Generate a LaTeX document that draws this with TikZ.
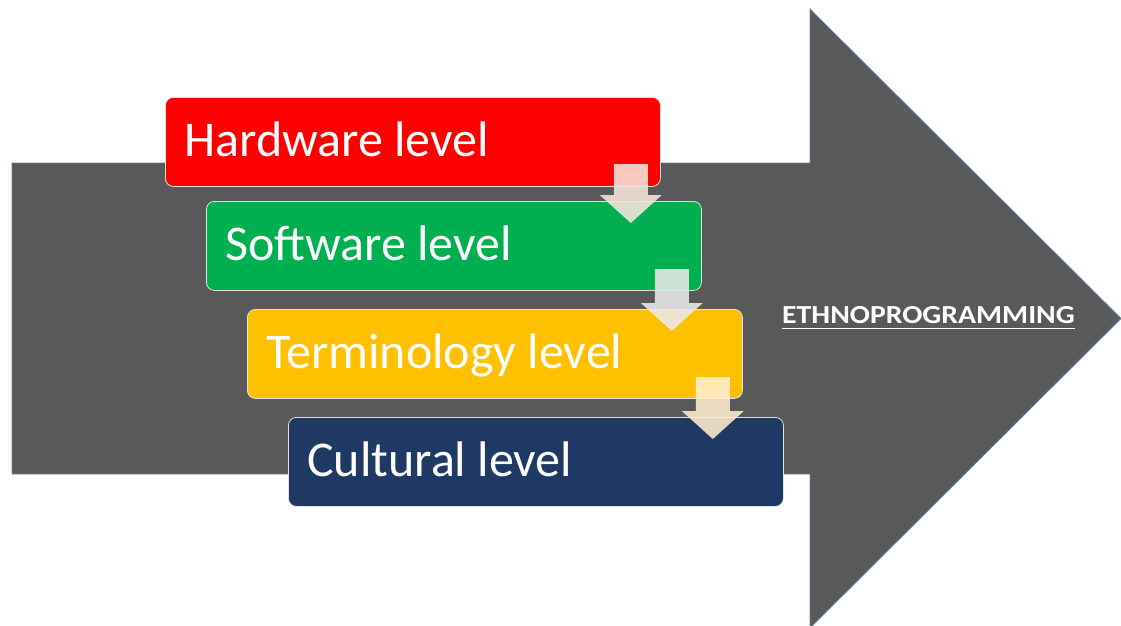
\documentclass[tikz,border=0pt]{standalone}
\usepackage{fontspec}
\setmainfont{Carlito}
\usetikzlibrary{calc}
\definecolor{arrgray}{RGB}{89,89,89}
\definecolor{arredge}{RGB}{96,130,170}
\definecolor{lvred}{RGB}{255,0,0}
\definecolor{lvgreen}{RGB}{0,176,80}
\definecolor{lvyellow}{RGB}{255,192,0}
\definecolor{lvnavy}{RGB}{32,56,100}
\definecolor{boxedge}{RGB}{225,225,225}
\definecolor{dnA}{RGB}{246,230,220}
\definecolor{dnB}{RGB}{234,234,234}
\definecolor{dnC}{RGB}{255,238,207}
\tikzset{
  levelbox/.style={draw=boxedge, line width=0.8pt, rounded corners=8pt,
    minimum width=495pt, minimum height=89pt, anchor=north west, inner sep=0pt},
  leveltext/.style={text=white, anchor=base west, inner sep=0pt,
    font=\fontsize{50}{60}\selectfont},
  bigarrow/.style={fill=arrgray, draw=arredge, line width=0.8pt},
  downarrow/.style={opacity=0.88}
}
\begin{document}
\begin{tikzpicture}[x=1pt,y=-1pt]
\useasboundingbox (0,0) rectangle (1121,626);
\clip (0,0) rectangle (1121,626);
% big arrow
\filldraw[bigarrow] (12,163) -- (810,163) -- (810,9) -- (1121,318.5) -- (810,628) -- (810,474) -- (12,474) -- cycle;
% label
\node[text=white, anchor=base west, inner sep=0pt, font=\bfseries\fontsize{26}{30}\selectfont] (eth) at (782,323.5) {\scalebox{1.145}[1]{ETHNOPROGRAMMING}};
\draw[white, line width=1.6pt] ([yshift=-5pt]eth.base west) -- ([yshift=-5pt]eth.base east);
% level boxes
\node[levelbox, fill=lvred] (hw) at (165,97) {};
\node[levelbox, fill=lvgreen] (sw) at (206,201) {};
\node[levelbox, fill=lvyellow] (tm) at (247,309) {};
\node[levelbox, fill=lvnavy] (cu) at (288,417) {};
\node[leveltext] (hwt) at ([xshift=19pt,yshift=-59pt]hw.north west) {Hardware level};
\node[leveltext] (swt) at ([xshift=19pt,yshift=-59pt]sw.north west) {Software level};
\node[leveltext] (tmt) at ([xshift=19pt,yshift=-59pt]tm.north west) {Terminology level};
\node[leveltext] (cut) at ([xshift=19pt,yshift=-59pt]cu.north west) {Cultural level};
% down arrows
\fill[downarrow, fill=dnA] let \p1=([xshift=-30pt]hw.north east), \p2=(sw.north) in
  (\x1-17pt,\y1-67pt) -- (\x1+17pt,\y1-67pt) -- (\x1+17pt,\y2+6pt) -- (\x1+31pt,\y2+6pt)
  -- (\x1,\y2-22pt) -- (\x1-31pt,\y2+6pt) -- (\x1-17pt,\y2+6pt) -- cycle;
\fill[downarrow, fill=dnB] let \p1=([xshift=-30pt]sw.north east), \p2=(tm.north) in
  (\x1-17pt,\y1-68pt) -- (\x1+17pt,\y1-68pt) -- (\x1+17pt,\y2+6pt) -- (\x1+31pt,\y2+6pt)
  -- (\x1,\y2-22pt) -- (\x1-31pt,\y2+6pt) -- (\x1-17pt,\y2+6pt) -- cycle;
\fill[downarrow, fill=dnC] let \p1=([xshift=-30pt]tm.north east), \p2=(cu.north) in
  (\x1-17pt,\y1-68pt) -- (\x1+17pt,\y1-68pt) -- (\x1+17pt,\y2+6pt) -- (\x1+31pt,\y2+6pt)
  -- (\x1,\y2-22pt) -- (\x1-31pt,\y2+6pt) -- (\x1-17pt,\y2+6pt) -- cycle;
\end{tikzpicture}
\end{document}
